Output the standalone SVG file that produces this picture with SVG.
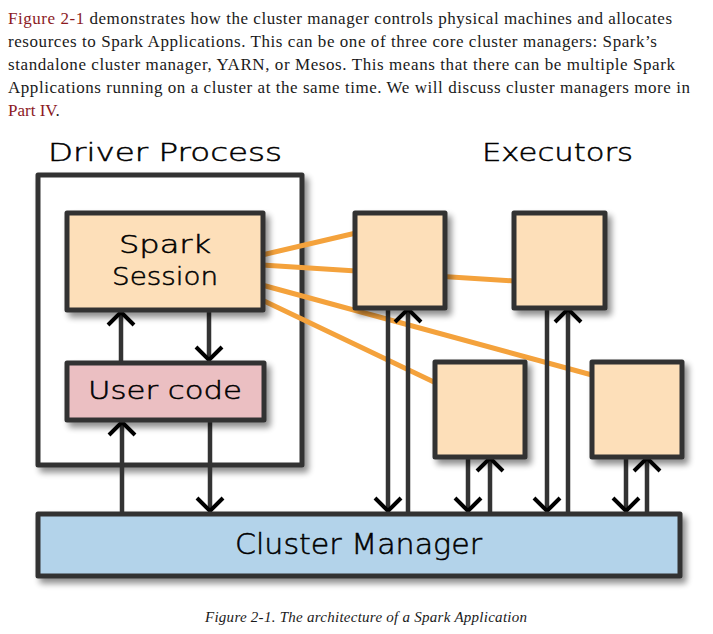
<svg xmlns="http://www.w3.org/2000/svg" width="713" height="634" viewBox="0 0 713 634">
<style>
.para{font-family:"Liberation Serif","Times New Roman",serif;font-size:17px;fill:#1a1a1a}
.link{fill:#8c1a1f}
.cap{font-family:"Liberation Serif","Times New Roman",serif;font-size:15px;font-style:italic;fill:#1a1a1a}
.hand{font-family:"DejaVu Sans","Noto Sans",sans-serif;font-weight:200;fill:#000;stroke:#000;stroke-width:0.5}
.box{stroke:#333;stroke-width:5;stroke-linejoin:round}
.conn{fill:none;stroke:#333;stroke-width:4.5;stroke-linecap:round}
.orange{fill:none;stroke:#f4a23c;stroke-width:5;stroke-linecap:round}
</style>
<defs>
<filter id="sh" x="-20%" y="-20%" width="150%" height="150%">
<feGaussianBlur in="SourceAlpha" stdDeviation="3"/>
<feOffset dx="4" dy="5" result="b"/>
<feComponentTransfer><feFuncA type="linear" slope="0.45"/></feComponentTransfer>
<feMerge><feMergeNode/><feMergeNode in="SourceGraphic"/></feMerge>
</filter>
<marker id="ah" markerUnits="userSpaceOnUse" markerWidth="34" markerHeight="34" viewBox="-17 -17 34 34" refX="0" refY="0" orient="auto" overflow="visible">
<path d="M -13 -13 L 0 0 L -13 13" fill="none" stroke="#000" stroke-width="4" stroke-linejoin="miter"/>
</marker>
</defs>
<rect width="713" height="634" fill="#fff"/>

<g id="paragraph">
<text class="para" x="8" y="24" textLength="664" lengthAdjust="spacing"><tspan class="link">Figure 2-1</tspan> demonstrates how the cluster manager controls physical machines and allocates</text>
<text class="para" x="8" y="47" textLength="649" lengthAdjust="spacing">resources to Spark Applications. This can be one of three core cluster managers: Spark’s</text>
<text class="para" x="8" y="70" textLength="667" lengthAdjust="spacing">standalone cluster manager, YARN, or Mesos. This means that there can be multiple Spark</text>
<text class="para" x="8" y="93" textLength="682" lengthAdjust="spacing">Applications running on a cluster at the same time. We will discuss cluster managers more in</text>
<text class="para" x="8" y="116"><tspan class="link">Part IV</tspan>.</text>
</g>

<g id="titles">
<text class="hand" x="48" y="161" font-size="25" textLength="234" lengthAdjust="spacingAndGlyphs">Driver Process</text>
<text class="hand" x="482" y="161" font-size="25" textLength="151" lengthAdjust="spacingAndGlyphs">Executors</text>
</g>

<g id="driver-process">
<rect class="box" x="38" y="175" width="264" height="290" fill="#fff" filter="url(#sh)"/>
</g>

<g id="connectors">
<path class="orange" d="M262 255 L356 233"/>
<path class="orange" d="M262 265 L514 281"/>
<path class="orange" d="M262 285 L592 375"/>
<path class="orange" d="M262 300 L436 383"/>
<path class="conn" d="M121 361 L121 312" marker-end="url(#ah)"/>
<path class="conn" d="M209 312 L209 360" marker-end="url(#ah)"/>
<path class="conn" d="M122 513 L122 422" marker-end="url(#ah)"/>
<path class="conn" d="M210 422 L210 511" marker-end="url(#ah)"/>
<path class="conn" d="M388 310 L388 511" marker-end="url(#ah)"/>
<path class="conn" d="M408 513 L408 309" marker-end="url(#ah)"/>
<path class="conn" d="M547 310 L547 511" marker-end="url(#ah)"/>
<path class="conn" d="M568 513 L568 309" marker-end="url(#ah)"/>
<path class="conn" d="M468 459 L468 511" marker-end="url(#ah)"/>
<path class="conn" d="M490 513 L490 458" marker-end="url(#ah)"/>
<path class="conn" d="M626 459 L626 511" marker-end="url(#ah)"/>
<path class="conn" d="M647 513 L647 458" marker-end="url(#ah)"/>
</g>

<g id="spark-session">
<rect class="box" x="67" y="213" width="196" height="97" fill="#fddfb9" filter="url(#sh)"/>
<text class="hand" x="165" y="253" font-size="25" text-anchor="middle" textLength="92" lengthAdjust="spacingAndGlyphs">Spark</text>
<text class="hand" x="165" y="285" font-size="25" text-anchor="middle" textLength="106" lengthAdjust="spacingAndGlyphs">Session</text>
</g>

<g id="user-code">
<rect class="box" x="67" y="363" width="197" height="57" fill="#ebbfc2" filter="url(#sh)"/>
<text class="hand" x="165" y="399" font-size="25" text-anchor="middle" textLength="154" lengthAdjust="spacingAndGlyphs">User code</text>
</g>

<g id="executor-1">
<rect class="box" x="355" y="213" width="90" height="95" fill="#fddfb9" filter="url(#sh)"/>
</g>
<g id="executor-2">
<rect class="box" x="514" y="213" width="91" height="95" fill="#fddfb9" filter="url(#sh)"/>
</g>
<g id="executor-3">
<rect class="box" x="435" y="362" width="90" height="95" fill="#fddfb9" filter="url(#sh)"/>
</g>
<g id="executor-4">
<rect class="box" x="592" y="362" width="90" height="95" fill="#fddfb9" filter="url(#sh)"/>
</g>

<g id="cluster-manager">
<rect class="box" x="38" y="514" width="642" height="62" fill="#b3d3ea" filter="url(#sh)"/>
<text class="hand" x="235" y="554" font-size="28" textLength="247" lengthAdjust="spacingAndGlyphs">Cluster Manager</text>
</g>

<g id="caption">
<text class="cap" x="205" y="622" textLength="322" lengthAdjust="spacing">Figure 2-1. The architecture of a Spark Application</text>
</g>
</svg>
